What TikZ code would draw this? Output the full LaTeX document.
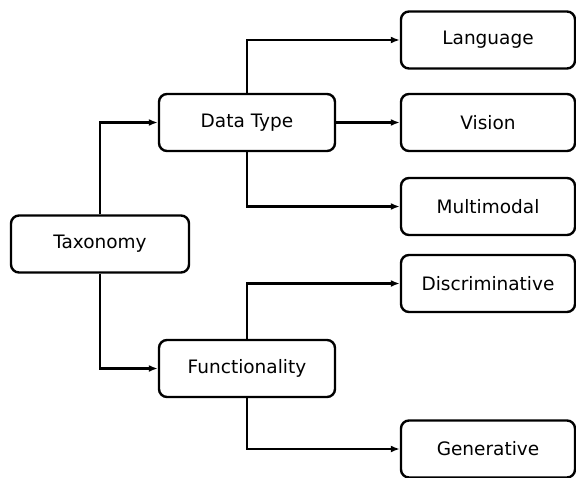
\documentclass[tikz,border=0pt]{standalone}
\usepackage{fontspec}
\setmainfont{DejaVu Sans}
\usetikzlibrary{arrows.meta}
\begin{document}
\begin{tikzpicture}[x=1pt,y=-1pt,
  box/.style={draw,line width=2.4pt,rounded corners=8pt,minimum height=57pt,inner sep=0pt,font=\fontsize{18.5}{22}\selectfont},
  conn/.style={line width=2.4pt,-{Latex[length=9pt,width=7pt]}}]
\useasboundingbox (0,0) rectangle (576,477);
\node[box,minimum width=178pt] (tax) at (100,244) {Taxonomy};
\node[box,minimum width=176pt] (dt) at (247,122.5) {Data Type};
\node[box,minimum width=176pt] (fn) at (247,368.5) {Functionality};
\node[box,minimum width=174pt] (lang) at (488,40) {Language};
\node[box,minimum width=174pt] (vis) at (488,122.5) {Vision};
\node[box,minimum width=174pt] (mm) at (488,206.5) {Multimodal};
\node[box,minimum width=174pt] (disc) at (488,283.5) {Discriminative};
\node[box,minimum width=174pt] (gen) at (488,449) {Generative};
\draw[conn] (tax.north) |- (dt.west);
\draw[conn] (tax.south) |- (fn.west);
\draw[conn] (dt.north) |- (lang.west);
\draw[conn] (dt.east) -- (vis.west);
\draw[conn] (dt.south) |- (mm.west);
\draw[conn] (fn.north) |- (disc.west);
\draw[conn] (fn.south) |- (gen.west);
\end{tikzpicture}
\end{document}
